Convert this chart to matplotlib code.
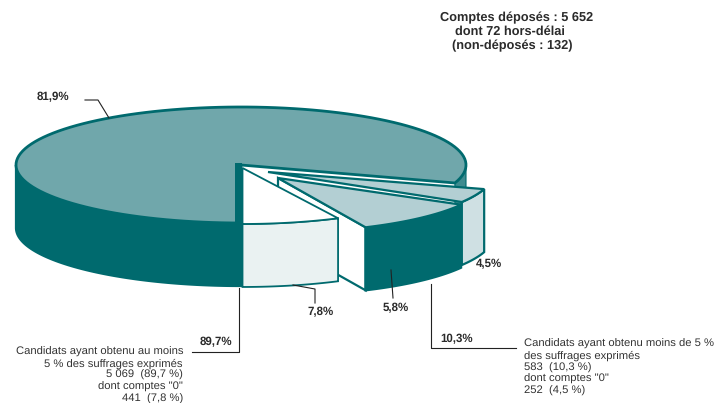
import numpy as np
import matplotlib
matplotlib.use("Agg")
import matplotlib.pyplot as plt

# Data
slice_names = ["Autres comptes", "Comptes 0 (au moins 5 %)", "Moins de 5 % hors 0", "Comptes 0 (moins de 5 %)"]
shares = [81.9, 7.8, 5.8, 4.5]
share_labels = ["81,9%", "7,8%", "5,8%", "4,5%"]
group_labels = ["89,7%", "10,3%"]
title_lines = ["Comptes déposés : 5 652", "dont 72 hors-délai", "(non-déposés : 132)"]
left_note = ["Candidats ayant obtenu au moins", "5 % des suffrages exprimés", "5 069  (89,7 %)", 'dont comptes "0"', "441  (7,8 %)"]
right_note = ["Candidats ayant obtenu moins de 5 %", "des suffrages exprimés", "583  (10,3 %)", 'dont comptes "0"', "252  (4,5 %)"]

# Layout / style
RX, RY, DEPTH = 225, 58, 63
TEAL = "#006A6E"
plt.rcParams["font.family"] = ["Liberation Sans", "DejaVu Sans"]
plt.rcParams["text.hinting"] = "none"
fig = plt.figure(figsize=(7.16, 4.03), dpi=100)
ax = fig.add_axes([0, 0, 1, 1])
ax.set_xlim(0, 716); ax.set_ylim(403, 0); ax.axis("off")

def arc(apex, start, span, r=1.0, n=120):
    t = np.radians(np.linspace(start, start + span, n))
    return apex[0] + RX * r * np.cos(t), apex[1] - RY * r * np.sin(t)

def top(apex, start, span, r, fc, lw=1.6, z=1):
    x, y = arc(apex, start, span, r)
    ax.fill(np.r_[apex[0], x], np.r_[apex[1], y], fc=fc, ec=TEAL, lw=lw, joinstyle="miter", zorder=z)

def side(apex, start, span, r, fc, lw=1.6, z=1, ec=TEAL):
    x, y = arc(apex, start, span, r)
    ax.fill(np.r_[x, x[::-1]], np.r_[y, y[::-1] + DEPTH], fc=fc, ec=ec, lw=lw, joinstyle="miter", zorder=z)

def wall(apex, corner_angle, r, fc, lw=1.6, z=1):
    x, y = arc(apex, corner_angle, 0, r, 1)
    ax.fill([apex[0], x[0], x[0], apex[0]], [apex[1], y[0], y[0] + DEPTH, apex[1] + DEPTH],
            fc=fc, ec=TEAL, lw=lw, joinstyle="miter", zorder=z)

# Main slice: clockwise from the bottom
A0 = (241, 165)
main_span = -shares[0] * 3.6 * 0.977
main_end = -90 + main_span
side(A0, main_end, 18, 1, "#3E8B8F", lw=0.8, z=1)
side(A0, -180, 90, 1, TEAL, z=1)
top(A0, -90, main_span, 1, "#70A7AB", lw=2, z=2)
ax.fill([235, 242, 242, 235], [163, 163, 224, 224], fc=TEAL, ec="none", zorder=3)

# 4.5 % slice
A3 = (268, 172)
s3, sp3 = -31, shares[3] * 3.6 * 0.86
side(A3, s3, sp3, 1.005, "#CFE0E3", z=4)
top(A3, s3, sp3, 1.005, "#B3CFD3", z=5)

# 5.8 % slice
A2 = (278, 178)
s2, sp2 = -65.4, shares[2] * 3.6 * 1.72
wall(A2, s2, 0.935, "white", z=6)
side(A2, s2, sp2, 0.935, TEAL, z=7)
top(A2, s2, sp2, 0.935, "#B3CFD3", z=8)

# 7.8 % slice
A1 = (242.5, 168)
s1, sp1 = -90, shares[1] * 3.6 * 0.93
side(A1, s1, sp1, 0.965, "#EAF2F2", lw=1.3, z=9)
top(A1, s1, sp1, 0.965, "white", lw=1.3, z=10)

# Leader lines
for xs, ys in [([85, 98, 109], [100, 100, 118]),
               ([293, 315, 315], [285, 289, 303]),
               ([391, 393], [270, 298]),
               ([239, 239, 192], [288, 352, 352]),
               ([431, 431, 516], [284, 348, 348])]:
    ax.plot(xs, ys, color="#222222", lw=0.8, zorder=11)

# Labels
BOLD = dict(fontsize=8.3, fontweight="bold", color="#2b2b2b", va="baseline")
HEAD = dict(BOLD, fontsize=9.2)
NOTE = dict(fontsize=8.15, color="#333333", va="baseline")
for txt, x, y in zip(title_lines, (440, 455, 452), (21, 35, 49)):
    ax.text(x, y, txt, ha="left", **HEAD)
ax.text(37, 100, share_labels[0], ha="left", **BOLD)
ax.text(308, 315, share_labels[1], ha="left", **BOLD)
ax.text(383, 311, share_labels[2], ha="left", **BOLD)
ax.text(476, 267, share_labels[3], ha="left", **BOLD)
ax.text(200, 345, group_labels[0], ha="left", **BOLD)
ax.text(440, 342, group_labels[1], ha="left", **BOLD)
for i, line in enumerate(left_note):
    ax.text(183, 355 + i * 11.6, line, ha="right", **NOTE)
for i, line in enumerate(right_note):
    ax.text(524, 347 + i * 11.7, line, ha="left", **NOTE)

fig.savefig("out.png", dpi=100)
